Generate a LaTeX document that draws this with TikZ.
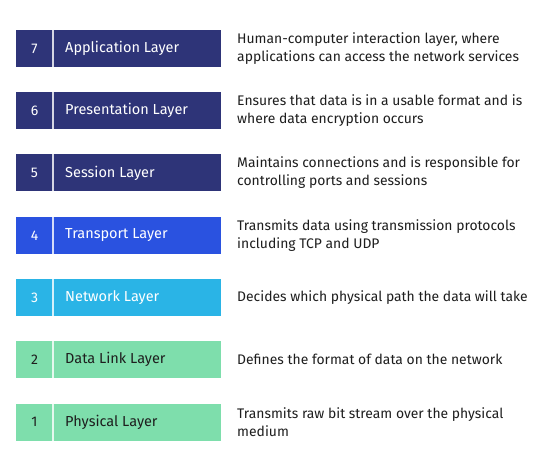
\documentclass[tikz,border=0pt]{standalone}
\usepackage{fontspec}
\setmainfont{Fira Sans}
\definecolor{navy}{RGB}{46,52,120}
\definecolor{tblue}{RGB}{42,82,224}
\definecolor{tcyan}{RGB}{42,180,230}
\definecolor{tgreen}{RGB}{126,222,172}
\definecolor{desc}{RGB}{30,30,30}
\begin{document}
\begin{tikzpicture}[x=1pt,y=-1pt,
  layerbox/.style={draw=none,fill=#1,minimum width=204.5pt,minimum height=37pt,inner sep=0pt,anchor=west},
  numtext/.style={font=\fontsize{14}{15}\selectfont,text=#1},
  labtext/.style={font=\fontsize{14.5}{15}\selectfont,text=#1,anchor=west,inner sep=0pt},
  desctext/.style={font=\fontsize{13.9}{18}\selectfont,text=desc,anchor=west,align=left,inner sep=0pt},
  divider/.style={draw=white!80!#1,line width=1.5pt}]
\useasboundingbox[fill=white] (0,0) rectangle (556,462);
\foreach \n/\y/\c/\t/\lab/\d in {
  7/48.5/navy/white/Application Layer/{Human-computer interaction layer, where\\applications can access the network services},
  6/110.5/navy/white/Presentation Layer/{Ensures that data is in a usable format and is\\where data encryption occurs},
  5/173/navy/white/Session Layer/{Maintains connections and is responsible for\\controlling ports and sessions},
  4/235.5/tblue/white/Transport Layer/{Transmits data using transmission protocols\\including TCP and UDP},
  3/297.5/tcyan/white/Network Layer/{Decides which physical path the data will take},
  2/359.5/tgreen/desc/Data Link Layer/{Defines the format of data on the network},
  1/422/tgreen/desc/Physical Layer/{Transmits raw bit stream over the physical\\medium}} {
  \node[layerbox=\c] (box\n) at (16,\y) {};
  \coordinate (dt\n) at (53,\y-18.5);
  \coordinate (db\n) at (53,\y+18.5);
  \draw[divider=\c] (dt\n) -- (db\n);
  \node[numtext=\t] (num\n) at (34.5,\y) {\n};
  \node[labtext=\t] (lab\n) at (65,\y) {\lab};
  \node[desctext] (desc\n) at (237,\y) {\d};
}
\end{tikzpicture}
\end{document}
